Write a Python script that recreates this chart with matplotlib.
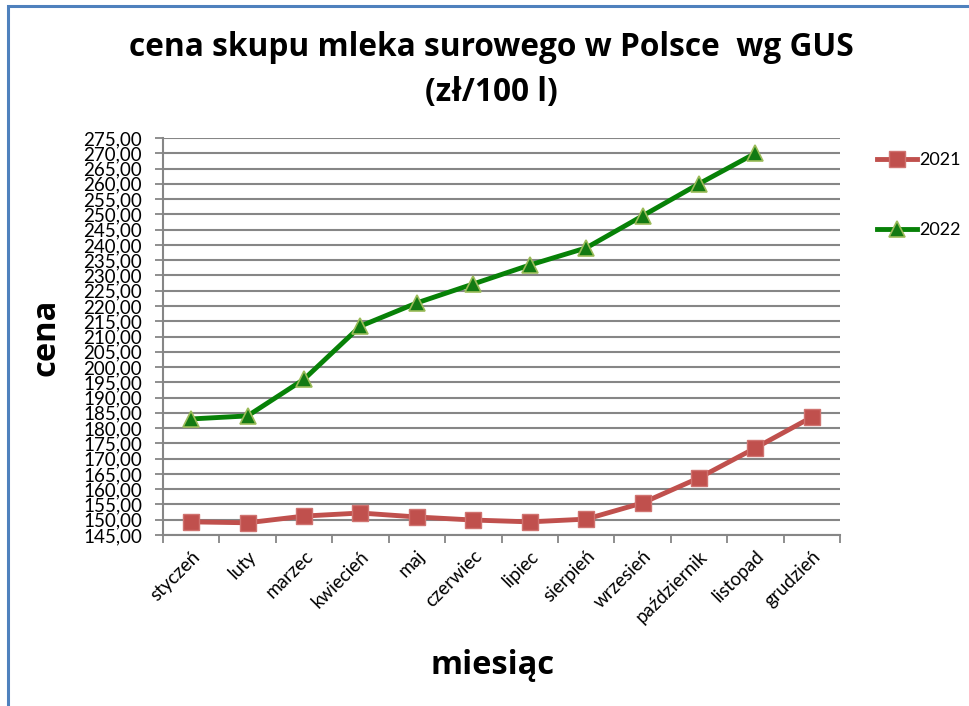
import matplotlib
matplotlib.use("Agg")
import matplotlib.pyplot as plt
from matplotlib.patches import Rectangle
from matplotlib.ticker import MultipleLocator, FuncFormatter, FixedLocator
import matplotlib.transforms as mtransforms

months = ["styczeń", "luty", "marzec", "kwiecień", "maj", "czerwiec",
          "lipiec", "sierpień", "wrzesień", "październik", "listopad", "grudzień"]
y2021 = [149.3, 149.0, 151.2, 152.2, 150.9, 149.9, 149.3, 150.2, 155.5, 163.7, 173.5, 183.6]
y2022 = [183.0, 184.0, 196.0, 213.4, 221.0, 227.2, 233.4, 239.0, 249.5, 260.0, 270.0]

plt.rcParams['font.family'] = ['Lato', 'DejaVu Sans']

fig = plt.figure(figsize=(9.69, 7.06), dpi=100)
fig.patch.set_facecolor("white")
fig.add_artist(Rectangle((8/969, -0.05), 1.1, 1 - 6/706 + 0.05, transform=fig.transFigure,
                         fill=False, edgecolor="#4F81BD", linewidth=2.2))

ax = fig.add_axes([163/969, 1 - 535/706, (840 - 163)/969, (535 - 138)/706])
x21 = range(len(y2021))
x22 = range(len(y2022))
ax.plot(x21, y2021, color="#C0504D", linewidth=3.5, marker="s", markersize=11,
        markerfacecolor="#C0504D", markeredgecolor="#D07370", markeredgewidth=1, label="2021", zorder=3)
ax.plot(x22, y2022, color="#078107", linewidth=3.5, marker="^", markersize=11,
        markerfacecolor="#137A13", markeredgecolor="#9BBB59", markeredgewidth=1.2, label="2022", zorder=4)

ax.set_xlim(-0.5, len(months) - 0.5)
ax.set_ylim(145, 275)
ax.yaxis.set_major_locator(MultipleLocator(5))
ax.yaxis.set_major_formatter(FuncFormatter(lambda v, p: f"{v:.2f}".replace(".", ",")))
ax.set_xticks(range(len(months)))
ax.set_xticklabels(months, rotation=45, ha="right", rotation_mode="anchor", fontsize=13.5)
offset = mtransforms.ScaledTranslation(8/100, 0, fig.dpi_scale_trans)
for lbl in ax.get_xticklabels():
    lbl.set_transform(lbl.get_transform() + offset)
ax.xaxis.set_minor_locator(FixedLocator([i - 0.5 for i in range(len(months) + 1)]))
ax.tick_params(axis="x", which="major", length=0, pad=9)
ax.tick_params(axis="x", which="minor", length=6, width=1.3, color="#868686")
ax.tick_params(axis="y", length=6, width=1.3, color="#868686", labelsize=13.5, pad=9)
ax.grid(axis="y", color="#868686", linewidth=1.5)
ax.set_axisbelow(True)
for s in ["top", "right"]:
    ax.spines[s].set_visible(False)
for s in ["left", "bottom"]:
    ax.spines[s].set_color("#868686")
    ax.spines[s].set_linewidth(1.5)

tfont = ["Open Sans", "DejaVu Sans"]
fig.text(491/969, 1 - 48/706, "cena skupu mleka surowego w Polsce  wg GUS", ha="center", va="center",
         fontsize=22.8, fontweight="bold", family=tfont)
fig.text(491/969, 1 - 92/706, "(zł/100 l)", ha="center", va="center",
         fontsize=22.8, fontweight="bold", family=tfont)
fig.text(46/969, 1 - 337/706, "cena", ha="center", va="center", rotation=90,
         fontsize=23.5, fontweight="bold", family=tfont)
fig.text(493/969, 1 - 665/706, "miesiąc", ha="center", va="center",
         fontsize=23.5, fontweight="bold", family=tfont)

leg = fig.legend(loc="upper left", bbox_to_anchor=(877/969, 1 - 152/706), frameon=False,
                 fontsize=13, labelspacing=3.0, handlelength=2.2, handletextpad=0.15,
                 borderaxespad=0, borderpad=0)
plt.savefig("out.png", dpi=100, facecolor="white")
